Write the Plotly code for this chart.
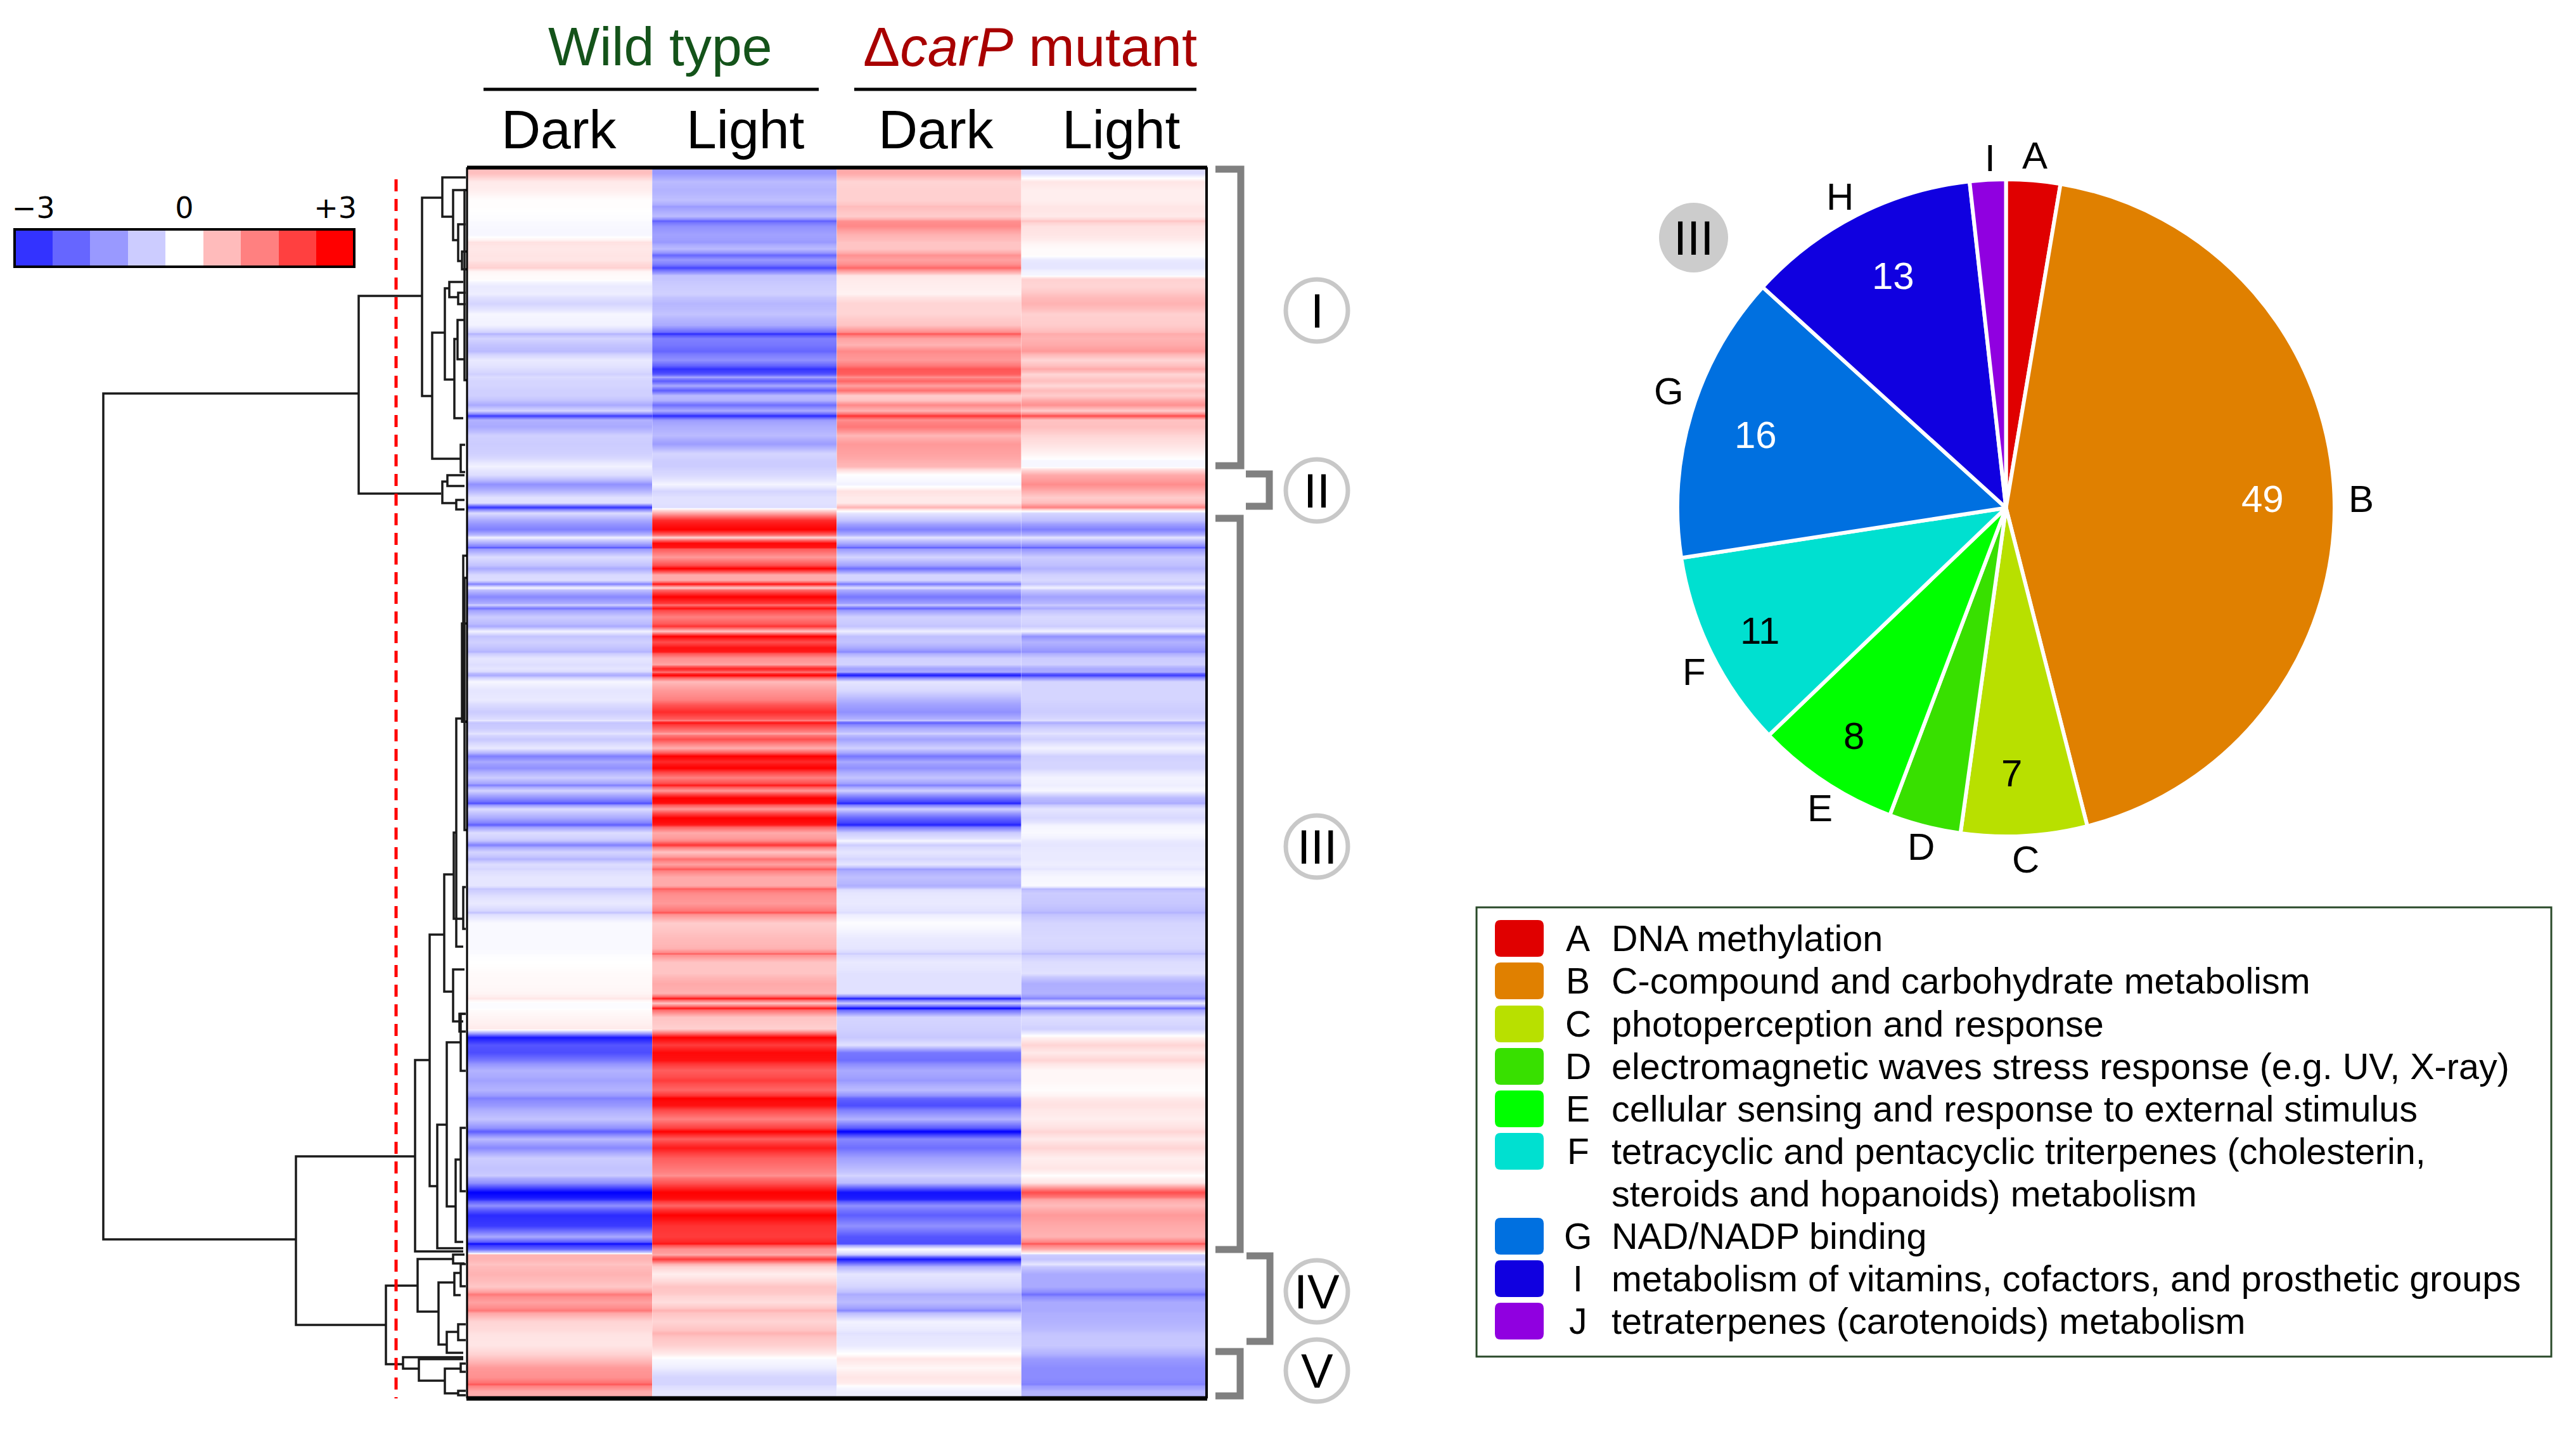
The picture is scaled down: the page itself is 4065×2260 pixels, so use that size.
import numpy as np
import plotly.graph_objects as go

W, H = 4065, 2260

# ---- heat map: each row = [height of the band, WT dark, WT light, dCarP dark, dCarP light]
cluster_I = [
 [13,.75,-1.2,1.0,-.4],[13,.25,-.8,.5,.3],[15,.2,-.9,.55,.2],[15,.02,-.75,.55,.2],[5,.03,-1.2,.8,.3],
 [8,0,-1.0,.7,.3],[10,-.02,-.8,.6,.25],[5,-.05,-1.9,1.3,.7],[12,-.08,-1.3,1.4,.35],[15,-.1,-1.1,.9,.3],
 [8,.35,-1.2,.7,.15],[13,.28,-.8,.7,.05],[7,.32,-1.8,1.3,.05],[7,.3,-1.2,1.1,-.25],[7,.45,-1.5,1.3,-.3],
 [5,.55,-2.2,1.8,-.3],[7,.1,-1.4,1.0,-.15],[5,.05,-.7,.3,-.1],[7,.05,-.7,.25,.55],[15,-.25,-.6,.2,.5],
 [10,-.2,-.55,.15,.7],[20,-.5,-.85,.5,.9],[13,-.1,-.7,.5,.55],[22,-.15,-1.0,.7,.6],[5,-.9,-2.5,2.0,1.0],
 [10,-.5,-1.5,1.1,.9],[10,-.7,-1.6,.9,1.0],[10,-.8,-1.8,1.4,1.2],[18,-.25,-1.3,1.2,.5],[10,-.4,-2.4,2.0,1.0],
 [6,-.55,-2.0,1.9,.5],[4,-.4,-1.0,1.3,.6],[8,-.5,-1.9,1.8,.75],[7,-.5,-1.0,1.1,.45],[8,-.55,-1.9,1.7,.8],
 [8,-.55,-.8,.6,.6],[7,-.7,-.9,.7,1.0],[8,-1.0,-1.7,1.4,1.3],[10,-.5,-1.0,.9,.6],[6,-2.3,-2.5,2.4,2.1],
 [7,-.9,-1.2,1.3,.7],[15,-1.0,-.95,1.6,.75],[12,-.55,-.8,.85,.5],[15,-.6,-1.15,1.2,.35],[15,-.55,-.5,1.1,.15],
 [8,-.35,-.6,.95,-.1],[10,-.15,-.6,.85,-.1],
]
cluster_II = [
 [17,-.4,-.45,-.02,1.0],[12,-1.3,-.12,-.15,1.35],[10,-.85,-.5,.35,.95],[10,-.35,-.35,.25,.6],
 [7,-.35,-.35,.25,.8],[7,-2.4,-.4,.9,1.5],
]
cluster_III = [
 [11,-.4,1.0,-.3,-.5],[12,-1.0,2.5,-.7,-.75],[17,-1.5,3.0,-1.5,-1.5],[8,-.15,.5,-.3,-.3],[10,-1.0,2.9,-1.0,-1.0],
 [4,-2.0,2.7,-1.9,-1.9],[26,-.4,1.2,-.5,-.6],[10,-1.0,3.0,-1.7,-.9],[10,-.45,1.0,-.5,-.55],
 [7,-.4,1.0,-.5,-.45],[5,-1.5,2.8,-1.6,-.7],[7,-.1,.6,-.35,-.15],[21,-1.4,3.0,-1.6,-1.1],[5,-.5,1.6,-.6,-.6],
 [6,-1.6,2.8,-1.8,-1.0],[21,-.6,1.5,-.55,-.45],[8,-1.0,2.4,-.7,-.6],[8,-.15,.7,-.2,-.15],[8,-.7,3.0,-.75,-1.3],
 [10,-.55,2.1,-.7,-.9],[8,-.7,2.8,-1.0,-1.1],[5,-.9,2.7,-1.4,-1.3],[15,-.3,1.3,-.55,-.6],[5,-.4,1.0,-.5,-.55],
 [8,-.3,2.6,-1.1,-1.0],[3,-.5,1.5,-1.0,-1.0],[7,-1.0,3.0,-2.7,-2.3],[13,-.1,.8,-.3,-.5],[15,-.3,1.2,-.45,-.5],
 [15,-.25,1.5,-.9,-.5],[23,-.6,2.5,-1.3,-.6],[3,-.2,1.3,-.5,-.3],[5,-.7,2.8,-1.9,-1.0],[12,-.6,1.9,-1.0,-.55],
 [5,-.3,1.0,-.5,-.3],[13,-.65,2.1,-1.1,-.55],[15,-.25,.95,-.55,-.15],[10,-1.5,3.0,-1.6,-.55],[8,-1.0,2.5,-1.0,-.5],
 [12,-1.3,3.0,-1.3,-.5],[18,-.6,1.5,-.7,-.15],
 [6,-1.5,2.7,-1.5,-.2],[11,-.5,1.2,-.55,-.1],[12,-1.3,3.0,-1.7,-.8],[5,-2.1,2.8,-2.6,-1.0],[13,-.4,1.2,-.55,-.3],
 [15,-1.0,3.0,-1.8,-.45],[7,-1.9,2.7,-2.6,-.15],[18,-.4,1.0,-.6,-.07],[7,-.7,1.4,-.1,-.25],[7,-1.5,2.4,-.6,-.3],
 [15,-.5,.7,-.3,-.25],[7,-.9,1.7,-.5,-.25],[10,-.4,1.1,-.3,-.2],[5,-.5,2.0,-1.2,-.3],[20,-.3,1.0,-.75,-.1],
 [7,-.3,1.0,-.95,-.07],[3,-.7,2.0,-.5,-.9],[10,-.5,1.4,-.3,-.6],[23,-.25,1.2,-.25,-.65],[6,-.7,2.0,-.4,-.9],
 [27,-.07,.6,-.03,-.5],[20,-.07,.8,-.25,-.45],[13,-.07,.9,-.3,-.5],[4,-.05,1.9,-.6,-.8],[23,0,.7,-.25,-.4],
 [12,.06,.7,-.35,-.35],[20,.07,1.0,-.35,-.95],
 [11,.12,.9,-.35,-.9],[5,.3,2.8,-2.7,-1.5],[10,-.04,.7,-.6,-.25],[6,-.03,2.7,-2.9,-1.7],[22,.12,.7,-.5,-.4],
 [15,.25,.55,-.55,-.55],[12,-2.7,3.0,-.65,.15],[12,-2.0,2.3,-.35,.5],[12,-2.1,2.9,-1.6,.25],[12,-1.6,2.8,-1.7,.5],
 [20,-.9,1.9,-1.0,.1],[12,-1.1,2.3,-1.2,.1],[18,-.9,1.8,-.8,.03],[8,-1.5,3.0,-1.8,.25],[15,-1.2,2.8,-2.1,.35],
 [28,-.7,1.5,-.9,.2],[11,-1.9,3.0,-3.0,.5],[13,-.8,1.9,-1.4,.25],[15,-1.4,2.7,-1.7,.5],[17,-.6,1.9,-1.1,.2],
 [15,-.7,1.6,-.8,.3],[8,-.6,1.3,-.5,0],[15,-1.3,2.0,-.8,.3],[15,-3.0,3.0,-2.8,2.1],
 [7,-2.5,2.8,-2.6,1.1],[13,-1.3,1.8,-1.3,.8],[17,-2.5,3.0,-1.9,1.2],[17,-2.3,2.4,-1.3,1.0],[17,-1.0,2.3,-2.0,.9],
 [5,-2.9,2.8,-2.1,2.0],[12,-1.8,1.3,-.05,1.0],
]
cluster_IV = [
 [6,.9,1.0,-.7,-.6],[8,.9,2.3,-2.7,-.7],[8,.7,.9,-1.5,-.3],[23,.9,.2,-.3,-1.0],[17,.65,.7,-.5,-1.0],
 [7,1.6,.6,-1.0,-1.7],[18,1.1,.4,-.8,-1.0],[8,1.6,.9,-1.4,-1.0],[27,.5,.5,-.15,-.9],[10,.35,.9,-.35,-.7],
 [28,.3,.55,-.25,-.65],
]
cluster_V = [
 [15,.75,-.07,.3,-1.2],[13,1.2,-.2,.1,-1.35],[17,1.3,-.5,.3,-1.35],[5,2.0,-.5,.15,-1.5],[18,1.0,-.3,-.2,-.9],
]
condition_labels = ["Dark", "Light", "Dark", "Light"]
key_values = [-2.4, -1.8, -1.2, -.6, 0, .8, 1.5, 2.25, 3]
key_ticks = ["\u22123", "0", "+3"]

# ---- dendrogram merges: [merge height, top child pos, bottom child pos, top child height, bottom child height]
dendro = [
 [163,621,1956,566,467],[566,467,779,666,696],[666,312,625,698,682],[698,280,342,735,715],[715,300,379,735,723],
 [723,354,412,735,729],[729,397,425,736,736],[682,525,724,702,727],[702,455,599,709,717],[709,445,469,731,723],
 [723,462,480,735,735],[717,535,660,722,731],[722,505,567,732,732],[727,702,745,734,734],[698,760,794,706,720],
 [706,750,767,733,733],[720,789,804,733,733],
 [467,1825,2091,655,609],[655,1673,1975,678,731],[678,1475,1872,701,690],[701,1380,1565,716,715],[716,1314,1450,720,731],
 [720,1134,1494,733,731],[715,1530,1612,733,731],[731,1400,1466,735,735],[725,1600,1628,735,735],
 [690,1775,1970,705,731],[705,1645,1904,727,719],[727,1600,1690,735,735],[719,1830,1960,727,731],[727,1780,1880,735,735],
 [609,2029,2153,659,636],[659,1987,2070,715,692],[715,1980,1994,733,733],[692,2024,2122,717,705],[717,2009,2044,727,727],
 [727,1995,2030,735,735],[705,2102,2135,723,731],[723,2090,2115,735,735],[636,2142,2160,731,661],[661,2145,2179,731,702],
 [702,2160,2199,727,723],[727,2152,2165,735,735],[723,2195,2202,735,735],
 [731,877,1139,736,736],[729,984,1139,736,736],[733,912,1139,736,736],[733,300,600,736,736],[733,1139,1310,736,736],
]

# ---- pie chart
pie_labels = ["A", "B", "C", "D", "E", "F", "G", "H", "I"]
pie_values = [3, 49, 7, 4, 8, 11, 16, 13, 2]
pie_colors = ["#e00000", "#e08000", "#b8e000", "#38e000", "#00ff00", "#00e0d0", "#0070e0", "#1000e0", "#9000e0"]
pie_shown = {"B": "white", "C": "black", "E": "black", "F": "black", "G": "white", "H": "white"}

# ---- legend
legend_letters = ["A", "B", "C", "D", "E", "F", "G", "I", "J"]
legend_texts = ["DNA methylation", "C-compound and carbohydrate metabolism", "photoperception and response",
                "electromagnetic waves stress response (e.g. UV, X-ray)", "cellular sensing and response to external stimulus",
                "tetracyclic and pentacyclic triterpenes (cholesterin,", "NAD/NADP binding",
                "metabolism of vitamins, cofactors, and prosthetic groups", "tetraterpenes (carotenoids) metabolism"]
legend_extra_line = "steroids and hopanoids) metabolism"
cluster_names = ["I", "II", "III", "IV", "V"]

SANS = "Liberation Sans"
BLACK = "#000000"

rows = cluster_I + cluster_II + cluster_III + cluster_IV + cluster_V
heights = [r[0] for r in rows]
edges = np.concatenate([[0], np.cumsum(heights)])

HX0, HX1, HY0, HY1 = 738, 1903, 267, 2205
scale = [[0, "#0000ff"], [.5, "#ffffff"], [1, "#ff0000"]]

fig = go.Figure()
for col in range(4):
    col_values = [r[col + 1] for r in rows]
    fig.add_trace(go.Heatmap(z=[[v, v] for v in col_values], x=[col - .5, col, col + .5], y=edges, colorscale=scale,
                             zmin=-3, zmax=3, showscale=False, zsmooth="best",
                             xaxis="x", yaxis="y", hoverinfo="skip"))
fig.add_trace(go.Heatmap(z=[key_values], x=list(range(9)), y=[0], colorscale=scale, zmin=-3, zmax=3, showscale=False,
                         xaxis="x3", yaxis="y3", hoverinfo="skip"))

dx, dy = [], []
for m in dendro:
    h, t, b, ht, hb = m
    dx += [ht, h, h, hb, None]
    dy += [t, t, b, b, None]
fig.add_trace(go.Scatter(x=dx, y=dy, mode="lines", line=dict(color="#1a1a1a", width=3.5),
                         xaxis="x2", yaxis="y2", showlegend=False, hoverinfo="skip"))
fig.add_trace(go.Scatter(x=[625, 625], y=[283, 2207], mode="lines",
                         line=dict(color="#ff0000", width=5, dash="19px,12px"),
                         xaxis="x2", yaxis="y2", showlegend=False, hoverinfo="skip"))

PX0, PX1, PY0, PY1 = 2647, 3684, 283, 1320
fig.add_trace(go.Pie(values=pie_values, labels=pie_labels, sort=False, direction="clockwise", rotation=0,
                     marker=dict(colors=pie_colors, line=dict(color="white", width=6)),
                     textinfo="none", showlegend=False, hoverinfo="skip",
                     domain=dict(x=[PX0 / W, PX1 / W], y=[1 - PY1 / H, 1 - PY0 / H])))

ann, shp = [], []


def note(x, y, text, size, color=BLACK, anchor="center", family=SANS):
    ann.append(dict(x=x, y=y, xref="x2", yref="y2", text=text, showarrow=False, xanchor=anchor, yanchor="middle",
                    font=dict(family=family, size=size, color=color)))


def line(path, color=BLACK, width=3):
    shp.append(dict(type="path", path=path, xref="x2", yref="y2", line=dict(color=color, width=width)))


# header
note(1042, 73, "Wild type", 86, "#14531a")
note(1625, 73, "\u0394<i>carP</i> mutant", 87, "#a80000")
line("M763,141 H1292", width=5)
line("M1348,141 H1888", width=5)
for cx, lab in zip([882, 1176, 1477, 1769], condition_labels):
    note(cx, 204, lab, 86)

# heat-map frame
line("M737,264.5 H1905", width=6)
line("M736,2207 H1905", width=7)
line("M737,264 V2207", width=3)
line("M1904,264 V2207", width=4)

# brackets
for p in ["M1918,267 H1958 V735 H1918", "M1966,748 H2003 V799 H1966", "M1918,818 H1957 V1972 H1918",
          "M1967,1982 H2004 V2117 H1967", "M1918,2133 H1957 V2203 H1918"]:
    line(p, "#808080", 11)

# cluster tags
for name, cy in zip(cluster_names, [490, 774, 1336, 2038, 2163]):
    shp.append(dict(type="circle", xref="x2", yref="y2", x0=2078 - 49, x1=2078 + 49, y0=cy - 49, y1=cy + 49,
                    line=dict(color="#c8c8c8", width=7), fillcolor="white"))
    note(2078, cy, name, 76)

# colour key frame
shp.append(dict(type="rect", xref="x2", yref="y2", x0=23, x1=559, y0=362, y1=421, line=dict(color=BLACK, width=4)))

# pie tag
shp.append(dict(type="circle", xref="x2", yref="y2", x0=2618, x1=2727, y0=320, y1=430,
                line=dict(width=0), fillcolor="#cccccc"))
note(2672, 375, "III", 76)

# pie labels
for lab, (x, y) in zip(pie_labels, [(3211, 245), (3726, 787), (3196, 1356), (3031, 1336), (2872, 1275),
                                    (2673, 1060), (2633, 617), (2903, 310), (3140, 249)]):
    note(x, y, lab, 60)
for lab, (x, y) in zip(["B", "C", "E", "F", "G", "H"], [(3570, 787), (3174, 1220), (2925, 1161), (2777, 995), (2770, 686), (2987, 435)]):
    note(x, y, str(pie_values[pie_labels.index(lab)]), 60, pie_shown[lab])

# legend
shp.append(dict(type="rect", xref="x2", yref="y2", x0=2330, x1=4026, y0=1432, y1=2141,
                line=dict(color="#2a4a2a", width=3)))
ycenters = [1481, 1548, 1616, 1683, 1750, 1817, 1951, 2018, 2085]
legend_colors = ["#e00000", "#e08000", "#b8e000", "#38e000", "#00ff00", "#00e0d0", "#0070e0", "#1000e0", "#9000e0"]
for lett, txt, yc, col in zip(legend_letters, legend_texts, ycenters, legend_colors):
    x0, x1, y0, y1, r = 2359, 2436, yc - 29, yc + 29, 9
    shp.append(dict(type="path", xref="x2", yref="y2", fillcolor=col, line=dict(width=0),
                    path=f"M{x0+r},{y0} H{x1-r} Q{x1},{y0} {x1},{y0+r} V{y1-r} Q{x1},{y1} {x1-r},{y1} "
                         f"H{x0+r} Q{x0},{y1} {x0},{y1-r} V{y0+r} Q{x0},{y0} {x0+r},{y0} Z"))
    note(2490, yc, lett, 57)
    note(2541, yc, txt, 57.5, anchor="left")
note(2541, 1884, legend_extra_line, 57.5, anchor="left")

hidden = dict(visible=False, fixedrange=True)
fig.update_layout(
    width=W, height=H, margin=dict(l=0, r=0, t=0, b=0), paper_bgcolor="white", plot_bgcolor="rgba(0,0,0,0)",
    showlegend=False,
    xaxis=dict(hidden, domain=[HX0 / W, HX1 / W], range=[-.5, 3.5]),
    yaxis=dict(hidden, domain=[1 - HY1 / H, 1 - HY0 / H], range=[float(edges[-1]), 0]),
    xaxis2=dict(hidden, domain=[0, 1], range=[0, W]),
    yaxis2=dict(hidden, domain=[0, 1], range=[H, 0]),
    xaxis3=dict(domain=[23 / W, 559 / W], range=[-.5, 8.5], side="top", tickvals=[0, 4, 8], ticktext=key_ticks,
                tickfont=dict(family="DejaVu Sans", size=46, color=BLACK), ticks="", showgrid=False, zeroline=False,
                showline=False, anchor="y3", fixedrange=True, ticklabelstandoff=8, automargin=False),
    yaxis3=dict(hidden, domain=[1 - 421 / H, 1 - 362 / H], range=[-.5, .5], anchor="x3"),
    annotations=ann, shapes=shp,
)
fig.write_html("out.html", post_script="document.body.style.margin='0';", config=dict(displayModeBar=False))
